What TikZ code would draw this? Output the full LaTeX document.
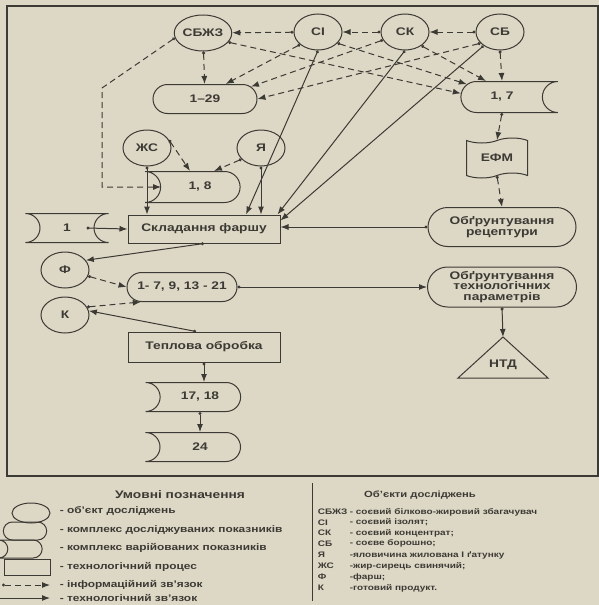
\documentclass[tikz,border=0pt]{standalone}
\usepackage{fontspec}
\setmainfont{Liberation Sans}[FakeStretch=1.25]
\usepackage{tikz}
\usetikzlibrary{shapes.geometric,shapes.misc,shapes.symbols,arrows.meta}

\definecolor{paper}{RGB}{221,215,197}
\definecolor{ink}{RGB}{60,58,52}

\begin{document}
\begin{tikzpicture}[x=1pt,y=-1pt, color=ink, line width=1pt,
  font=\bfseries\fontsize{11}{11.5}\selectfont,
  obj/.style={draw, ellipse, minimum width=48pt, minimum height=36pt, inner sep=0pt},
  set/.style={draw, rounded rectangle, minimum height=29pt, inner sep=1pt},
  varset/.style={set, rounded rectangle left arc=concave},
  proc/.style={draw, rectangle, minimum width=152pt, minimum height=28pt},
  info/.style={dash pattern=on 6pt off 4pt, {Circle[open,length=3pt]}-{Latex[length=8pt,width=6pt]}},
  tech/.style={{Circle[open,length=3pt]}-{Latex[length=8pt,width=6pt]}},
  legtext/.style={anchor=west, font=\bfseries\fontsize{9.5}{10}\selectfont},
  objtext/.style={anchor=west, font=\bfseries\fontsize{8}{8.5}\selectfont}]

\fill[paper] (0,0) rectangle (599,605);
\useasboundingbox (0,0) rectangle (599,605);

% Frame
\draw[line width=1.8pt] (7,6) rectangle (598,476);

% Objects
\node[obj] (sbzhz) at (203,33) {СБЖЗ};
\node[obj] (si) at (318,32) {СІ};
\node[obj] (sk) at (405,32) {СК};
\node[obj] (sb) at (500,32) {СБ};
\node[obj] (zhs) at (147,148) {ЖС};
\node[obj] (ya) at (261,148) {Я};
\node[obj] (f) at (65,270) {Ф};
\node[obj] (k) at (65,315) {К};

% Indices
\node[set, minimum width=106pt] (p129) at (205,99) {1--29};
\node[set, minimum width=99pt, minimum height=31pt, rounded rectangle right arc=concave] (p17) at (502,97) {1, 7};
\node[varset, minimum width=97pt, minimum height=31pt] (p18) at (200,187) {1, 8};
\node[set, minimum width=85pt, rounded rectangle left arc=concave, rounded rectangle right arc=concave] (one) at (67,228) {1};
\node[set, minimum width=110pt, inner sep=0pt] (p121) at (182,287) {1- 7, 9, 13 - 21};
\node[varset, minimum width=97pt] (p1718) at (200,397) {17, 18};
\node[varset, minimum width=97pt] (p24) at (200,447) {24};

% EFM and results
\node[draw, tape, minimum width=61pt, minimum height=40pt, tape bend top=in and out, tape bend bottom=in and out] (efm) at (497,158) {ЕФМ};
\node[set, minimum width=150pt, minimum height=39pt, align=center] (rec) at (502,227) {Обґрунтування\\рецептури};
\node[set, minimum width=149pt, minimum height=40pt, inner sep=0pt, align=center,
  font=\bfseries\fontsize{11}{10.5}\selectfont] (par) at (502,287) {Обґрунтування\\технологічних\\параметрів};
\coordinate (ntdtop) at (503,337);
\draw (ntdtop) -- (458,378) -- (548,378) -- cycle;
\node (ntd) at (503,365) {НТД};

% Processes
\node[proc] (mix) at (204,229) {Складання фаршу};
\node[proc, minimum height=30pt] (heat) at (204,347) {Теплова обробка};

% Information links
\draw[info] (si) -- (sbzhz);
\draw[info] (sk) -- (si);
\draw[info] (sb) -- (sk);
\draw[info] (sbzhz) -- (p129);
\draw[info] (si.215) -- (p129.36);
\draw[info] (sk.200) -- (p129.15);
\draw[info] (sb.210) -- (p129.east);
\draw[info] (sbzhz.340) -- (p17.175);
\draw[info] (si.330) -- (p17.160);
\draw[info] (sk.320) -- (p17.135);
\draw[info] (sb.south) -- (p17.north);
\draw[info] (sbzhz.190) -- (102,88) |- ([xshift=16pt]p18.west);
\draw[info] (zhs.20) -- ([xshift=-10pt]p18.north);
\draw[info] (ya.210) -- ([xshift=14pt]p18.north);
\draw[info] (p17.south) -- (efm.north);
\draw[info] (efm.south) -- (rec.north);
\draw[info] (f.345) -- (p121.west);
\draw[info] (k.20) -- (p121.200);

% Technological links
\draw[tech] (zhs.south) -- (zhs.south |- mix.north);
\draw[tech] (ya.south) -- (ya.south |- mix.north);
\draw[tech] (si.south) -- ([xshift=42pt]mix.north);
\draw[tech] (sk.south) -- ([xshift=-3pt]mix.north east);
\draw[tech] (sb.220) -- ([yshift=-6pt]mix.north east);
\draw[tech] (rec.west) -- (rec.west -| mix.east);
\draw[tech] ([xshift=-22pt]one.east) -- (mix.west);
\draw[tech] (mix.south) -- (f.25);
\draw[tech] (p121.east) -- (par.west);
\draw[tech] (par.south) -- (ntdtop);
\draw[tech] ([xshift=-8pt]heat.north) -- (k.10);
\draw[tech] (heat.south) -- (heat.south |- p1718.north);
\draw[tech] (p1718.south) -- (p24.north);

% Legend: symbols
\node at (180,495) {Умовні позначення};
\node[draw, ellipse, minimum width=38pt, minimum height=20pt] (lgobj) at (31,513) {};
\node[draw, rounded rectangle, minimum width=50pt, minimum height=18pt] (lgset) at (25,531) {};
\node[draw, rounded rectangle, rounded rectangle left arc=concave, minimum width=50pt, minimum height=18pt] (lgvar) at (25,549) {};
\node[draw, minimum width=46pt, minimum height=16pt] (lgproc) at (27,567) {};
\coordinate (lginfoA) at (2,585);
\coordinate (lginfoB) at (50,585);
\coordinate (lgtechA) at (0,598);
\coordinate (lgtechB) at (50,598);
\draw[info] (lginfoA) -- (lginfoB);
\draw[-{Latex[length=8pt,width=6pt]}] (lgtechA) -- (lgtechB);
\node[legtext] at (56,511) {- об'єкт досліджень};
\node[legtext] at (56,530) {- комплекс досліджуваних показників};
\node[legtext] at (56,548) {- комплекс варійованих показників};
\node[legtext] at (56,567) {- технологічний процес};
\node[legtext] at (56,585) {- інформаційний зв'язок};
\node[legtext] at (56,598) {- технологічний зв'язок};

% Legend: objects
\draw (312,483) -- (312,601);
\node[font=\bfseries\fontsize{9}{9.5}\selectfont] at (420,495) {Об'єкти досліджень};
\foreach \y/\ab/\txt in {512/СБЖЗ/- соєвий білково-жировий збагачувач,
    522.5/СІ/- соєвий ізолят;, 533/СК/- соєвий концентрат;, 543.5/СБ/- соєве борошно;,
    555/Я/-яловичина жилована І ґатунку, 566/ЖС/-жир-сирець свинячий;,
    577/Ф/-фарш;, 588/К/-готовий продукт.}{
  \node[objtext] at (314,\y) {\ab};
  \node[objtext] at (346,\y) {\txt};
}

\end{tikzpicture}
\end{document}
